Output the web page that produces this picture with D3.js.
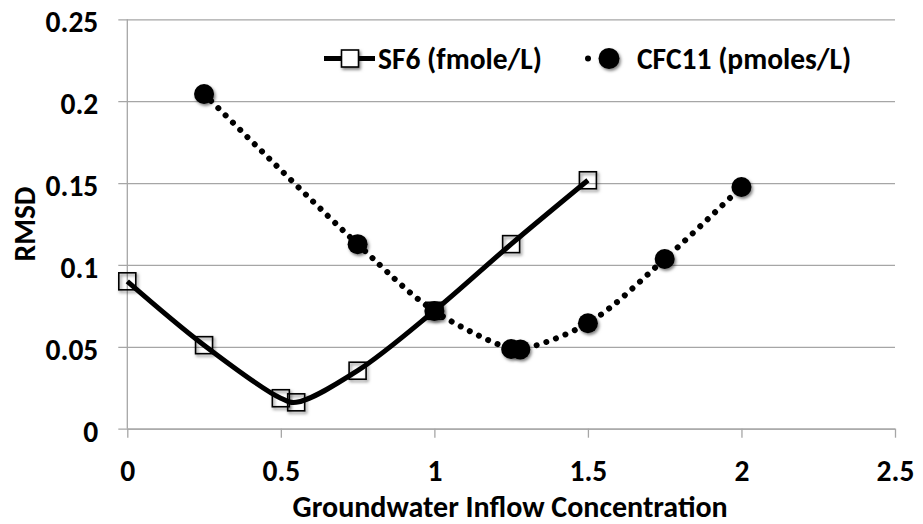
<!DOCTYPE html>
<html>
<head>
<meta charset="utf-8">
<script src="https://cdn.jsdelivr.net/npm/d3@7"></script>
<style>
  html, body { margin: 0; padding: 0; background: #fff; }
  svg { display: block; font-family: Carlito, Calibri, Lato, sans-serif; font-weight: 700; }
  .grid line { stroke: #a6a6a6; stroke-width: 1.3; }
  .grid path { display: none; }
  .axis path, .axis line { stroke: #a6a6a6; stroke-width: 1.3; }
  .axis text { font-size: 29.5px; font-weight: 700; fill: #000; font-family: Carlito, Calibri, Lato, sans-serif; }
</style>
</head>
<body>
<div id="chart"></div>
<script>
const width = 923;
const height = 524;
const margin = { top: 19.3, right: 28, bottom: 95.3, left: 127.3 };

// RMSD vs. inflow concentration for each tracer
const sf6X = [0, 0.25, 0.5, 0.55, 0.75, 1.0, 1.25, 1.5];
const sf6Y = [0.09, 0.051, 0.0186, 0.0161, 0.0354, 0.072, 0.1127, 0.1517];
const cfcX = [0.25, 0.75, 1.0, 1.25, 1.28, 1.5, 1.75, 2.0];
const cfcY = [0.2044, 0.1127, 0.0719, 0.0487, 0.0484, 0.0644, 0.1036, 0.1476];

const xTicks = [0, 0.5, 1, 1.5, 2, 2.5];
const yTicks = [0, 0.05, 0.1, 0.15, 0.2, 0.25];
const seriesNames = ["SF6 (fmole/L)", "CFC11 (pmoles/L)"];

const plotWidth = width - margin.left - margin.right;
const plotHeight = height - margin.top - margin.bottom;

const svg = d3
  .select("#chart")
  .append("svg")
  .attr("width", width)
  .attr("height", height);

// soft shadow under the markers
const defs = svg.append("defs");
const shadow = defs.append("filter").attr("id", "shadow").attr("x", "-50%").attr("y", "-50%").attr("width", "200%").attr("height", "200%");
shadow
  .append("feDropShadow")
  .attr("dx", 1.5)
  .attr("dy", 2)
  .attr("stdDeviation", 1.4)
  .attr("flood-color", "#000")
  .attr("flood-opacity", 0.5);

const plot = svg.append("g").attr("transform", `translate(${margin.left},${margin.top})`);

const x = d3.scaleLinear().domain([0, 2.5]).range([0, plotWidth]);
const y = d3.scaleLinear().domain([0, 0.25]).range([plotHeight, 0]);

// horizontal gridlines, running out past the axis like tick marks
plot
  .append("g")
  .attr("class", "grid")
  .call(d3.axisLeft(y).tickValues(yTicks).tickSize(-(plotWidth + 9)).tickFormat(""))
  .attr("transform", "translate(-9,0)")
  .selectAll("line")
  .attr("x1", 0)
  .attr("x2", plotWidth + 9);

const yAxis = plot
  .append("g")
  .attr("class", "axis")
  .call(d3.axisLeft(y).tickValues(yTicks).tickSize(0).tickPadding(29).tickFormat((d) => String(+d.toFixed(2))));
yAxis.select(".domain").attr("d", `M0,0V${plotHeight}`);
yAxis.selectAll("text").attr("dy", "0.43em");

const xAxis = plot
  .append("g")
  .attr("class", "axis")
  .attr("transform", `translate(0,${plotHeight})`)
  .call(d3.axisBottom(x).tickValues(xTicks).tickSizeInner(9).tickSizeOuter(0).tickPadding(22).tickFormat((d) => String(d)));
xAxis.selectAll("text").attr("dy", "0.71em");

svg
  .append("text")
  .attr("x", margin.left + x(1.25) - 1)
  .attr("y", 517)
  .attr("text-anchor", "middle")
  .attr("font-size", 30)
  .text("Groundwater Inflow Concentration");

svg
  .append("text")
  .attr("transform", `translate(35,${224}) rotate(-90)`)
  .attr("text-anchor", "middle")
  .attr("font-size", 29.5)
  .text("RMSD");

const curve = d3.curveCatmullRom.alpha(0.5);

const sf6 = sf6X.map((v, i) => [v, sf6Y[i]]);
const cfc = cfcX.map((v, i) => [v, cfcY[i]]);

const line = d3
  .line()
  .x((d) => x(d[0]))
  .y((d) => y(d[1]))
  .curve(curve);

plot
  .append("path")
  .datum(cfc)
  .attr("d", line)
  .attr("fill", "none")
  .attr("stroke", "#000")
  .attr("stroke-width", 6)
  .attr("stroke-linecap", "round")
  .attr("stroke-dasharray", "0.01,10.2");

plot
  .append("path")
  .datum(sf6)
  .attr("d", line)
  .attr("fill", "none")
  .attr("stroke", "#000")
  .attr("stroke-width", 5)
  .attr("stroke-linejoin", "round");

const sq = 17;
plot
  .selectAll("rect.sf6")
  .data(sf6)
  .join("rect")
  .attr("class", "sf6")
  .attr("x", (d) => x(d[0]) - sq / 2)
  .attr("y", (d) => y(d[1]) - sq / 2)
  .attr("width", sq)
  .attr("height", sq)
  .attr("fill", "none")
  .attr("stroke", "#000")
  .attr("stroke-width", 1.6)
  .attr("filter", "url(#shadow)");

plot
  .selectAll("circle.cfc")
  .data(cfc)
  .join("circle")
  .attr("class", "cfc")
  .attr("cx", (d) => x(d[0]))
  .attr("cy", (d) => y(d[1]))
  .attr("r", 10)
  .attr("fill", "#000")
  .attr("filter", "url(#shadow)");

// legend
const legendY = 58.5;
const legend = svg.append("g").attr("transform", `translate(0,${legendY})`);
legend.append("line").attr("x1", 324).attr("x2", 375).attr("y1", 0).attr("y2", 0).attr("stroke", "#000").attr("stroke-width", 5);
legend
  .append("rect")
  .attr("x", 350 - sq / 2)
  .attr("y", -sq / 2)
  .attr("width", sq)
  .attr("height", sq)
  .attr("fill", "#fff")
  .attr("stroke", "#000")
  .attr("stroke-width", 1.6)
  .attr("filter", "url(#shadow)");
legend.append("text").attr("x", 378).attr("y", 10).attr("font-size", 29.5).text(seriesNames[0]);

legend
  .append("line")
  .attr("x1", 588)
  .attr("x2", 630)
  .attr("y1", 0)
  .attr("y2", 0)
  .attr("stroke", "#000")
  .attr("stroke-width", 6)
  .attr("stroke-linecap", "round")
  .attr("stroke-dasharray", "0.01,21");
legend.append("circle").attr("cx", 609).attr("cy", 0).attr("r", 10.5).attr("fill", "#000").attr("filter", "url(#shadow)");
legend.append("text").attr("x", 637).attr("y", 10).attr("font-size", 29.5).text(seriesNames[1]);
</script>
</body>
</html>
